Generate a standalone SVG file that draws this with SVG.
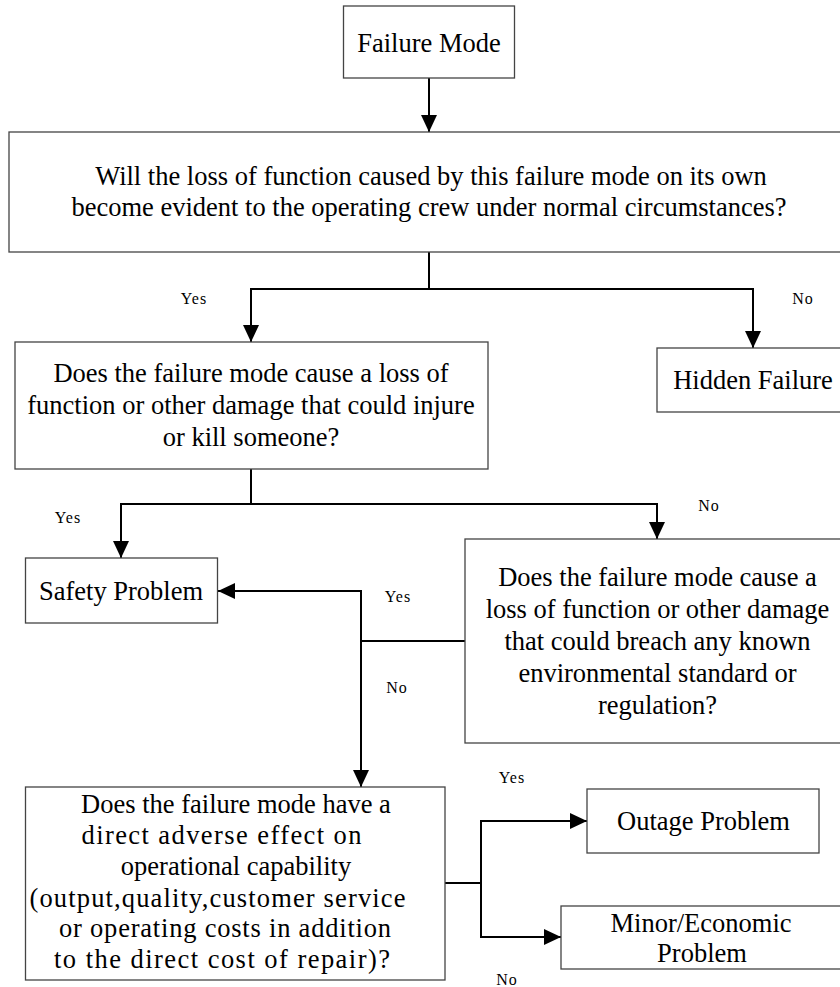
<svg xmlns="http://www.w3.org/2000/svg" width="840" height="987" viewBox="0 0 840 987">
<style>
.box{fill:#fff;stroke:#444;stroke-width:1.3}
.t{font-family:"Liberation Serif","Times New Roman",serif;font-size:26.5px;fill:#000;text-anchor:middle}
.lbl{font-family:"Liberation Serif","Times New Roman",serif;font-size:16px;fill:#000;text-anchor:middle;letter-spacing:1px}
.c{fill:none;stroke:#000;stroke-width:2}
</style>
<defs>
<marker id="ah" viewBox="0 0 17 16" refX="17" refY="8" markerWidth="17" markerHeight="16" markerUnits="userSpaceOnUse" orient="auto">
<path d="M0,0 L17,8 L0,16 z" fill="#000"/>
</marker>
</defs>
<rect width="840" height="987" fill="#fff"/>
<g id="connectors">
<path class="c" d="M429,78 V132" marker-end="url(#ah)"/>
<path class="c" d="M429,252 V289"/>
<path class="c" d="M429,289 H251 V342" marker-end="url(#ah)"/>
<path class="c" d="M429,289 H753 V348" marker-end="url(#ah)"/>
<path class="c" d="M251,469 V504"/>
<path class="c" d="M251,504 H121 V558" marker-end="url(#ah)"/>
<path class="c" d="M251,504 H657 V539" marker-end="url(#ah)"/>
<path class="c" d="M465,641 H361"/>
<path class="c" d="M361,641 V591 H218" marker-end="url(#ah)"/>
<path class="c" d="M361,641 V787" marker-end="url(#ah)"/>
<path class="c" d="M445,883 H481"/>
<path class="c" d="M481,883 V821 H587" marker-end="url(#ah)"/>
<path class="c" d="M481,883 V937 H561" marker-end="url(#ah)"/>
<text class="lbl" x="194" y="304">Yes</text>
<text class="lbl" x="803" y="304">No</text>
<text class="lbl" x="68" y="523">Yes</text>
<text class="lbl" x="709" y="511">No</text>
<text class="lbl" x="398" y="602">Yes</text>
<text class="lbl" x="397" y="693">No</text>
<text class="lbl" x="512" y="783">Yes</text>
<text class="lbl" x="507" y="985">No</text>
</g>
<g id="failure-mode">
<rect class="box" x="343.5" y="6" width="171" height="72"/>
<text class="t" x="429" y="52">Failure Mode</text>
</g>
<g id="q-evident">
<rect class="box" x="9" y="132" width="840" height="120"/>
<text class="t" x="431" y="185">Will the loss of function caused by this failure mode on its own</text>
<text class="t" x="429" y="216">become evident to the operating crew under normal circumstances?</text>
</g>
<g id="q-safety">
<rect class="box" x="15" y="342" width="473" height="127"/>
<text class="t" x="251" y="382">Does the failure mode cause a loss of</text>
<text class="t" x="251" y="413.5">function or other damage that could injure</text>
<text class="t" x="251" y="446">or kill someone?</text>
</g>
<g id="hidden-failure">
<rect class="box" x="657" y="348" width="200" height="64"/>
<text class="t" x="753" y="389">Hidden Failure</text>
</g>
<g id="safety-problem">
<rect class="box" x="25.5" y="558" width="192" height="65"/>
<text class="t" x="121" y="599.5">Safety Problem</text>
</g>
<g id="q-environment">
<rect class="box" x="465" y="539" width="400" height="204"/>
<text class="t" x="657.5" y="586">Does the failure mode cause a</text>
<text class="t" x="657.5" y="618">loss of function or other damage</text>
<text class="t" x="657.5" y="649.5">that could breach any known</text>
<text class="t" x="657.5" y="681.5">environmental standard or</text>
<text class="t" x="657.5" y="713.5">regulation?</text>
</g>
<g id="q-operational">
<rect class="box" x="25.5" y="787" width="419.5" height="193"/>
<text class="t" x="236" y="812.5">Does the failure mode have a</text>
<text class="t" x="221.5" y="844" textLength="280" lengthAdjust="spacing">direct adverse effect on</text>
<text class="t" x="236" y="875">operational capability</text>
<text class="t" x="217.5" y="906.5" textLength="376" lengthAdjust="spacing">(output,quality,customer service</text>
<text class="t" x="225" y="937" textLength="332" lengthAdjust="spacing">or operating costs in addition</text>
<text class="t" x="222" y="968" textLength="336" lengthAdjust="spacing">to the direct cost of repair)?</text>
</g>
<g id="outage-problem">
<rect class="box" x="587" y="789" width="232" height="64"/>
<text class="t" x="703.5" y="830">Outage Problem</text>
</g>
<g id="minor-economic">
<rect class="box" x="561" y="906" width="300" height="63"/>
<text class="t" x="701" y="932">Minor/Economic</text>
<text class="t" x="702" y="962">Problem</text>
</g>
</svg>
